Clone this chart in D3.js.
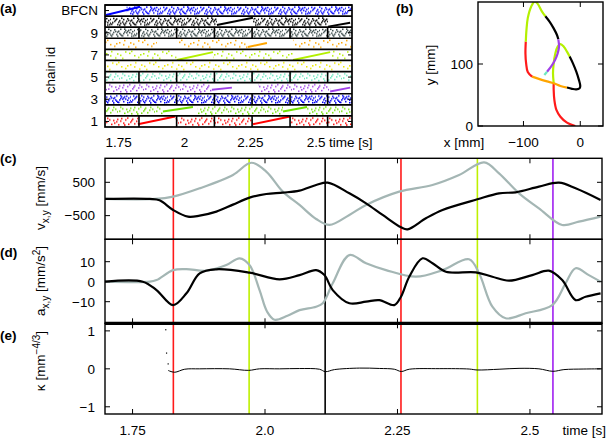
<!DOCTYPE html>
<html><head><meta charset="utf-8">
<script src="https://cdn.jsdelivr.net/npm/d3@7"></script>
<style>
body{margin:0;background:#fff}
svg{display:block}
text{font-family:"Liberation Sans",Arial,Helvetica,sans-serif;font-size:13.5px;fill:#000}
</style>
</head><body>
<svg id="chart" width="608" height="438"></svg>
<script>
// ---------------- data ----------------
const chainIds = ["1","2","3","4","5","6","7","8","9","10","BFCN"];
const chainColors = ["#ff0000","#70e000","#0000ee","#a040e8","#6ee8c0","#eee800","#b4f000","#ffa500","#3a4a4a","#000000","#0000ff"];
const chainDensity = [2,2,3,2,2,1,1,1,3,3,3];
const chainTickLabels = ["1","3","5","7","9","BFCN"];
// dotted (asynchronous) spans per chain: [chain, tStart, tEnd]
const dotSpans = [
  ["1",1.698,1.823],["1",1.964,2.260],["1",2.401,2.636],
  ["2",1.698,1.918],["2",2.050,2.374],["2",2.465,2.636],
  ["3",1.698,2.636],
  ["4",1.698,2.104],["4",2.280,2.553],
  ["5",1.698,2.636],
  ["6",1.698,2.636],
  ["7",1.698,1.971],["7",2.108,2.412],["7",2.553,2.636],
  ["8",1.698,1.895],["8",1.971,2.241],["8",2.412,2.636],
  ["9",1.698,2.636],
  ["10",1.698,2.123],["10",2.260,2.545],
  ["BFCN",1.780,2.636]
];
// synchronous ramps: [chain, tStart, tEnd, phaseStart, phaseEnd]
const ramps = [
  ["1",1.823,1.964,0.25,0.95],["1",2.260,2.401,0.25,0.95],
  ["2",1.918,2.032,0.40,0.80],["2",2.374,2.465,0.40,0.80],
  ["4",2.104,2.180,0.35,0.55],["4",2.553,2.629,0.20,0.55],
  ["7",1.971,2.108,0.05,0.75],["7",2.412,2.553,0.05,0.75],
  ["8",2.241,2.313,0.22,0.58],
  ["10",2.123,2.260,0.20,0.85],["10",2.545,2.629,0.05,0.40],
  ["BFCN",1.702,1.831,0.10,0.85]
];
const markerRows = ["1","3","5","9"];
const eventTimes = [1.827,1.970,2.1135,2.2566,2.4008,2.5434];
const eventColors = ["#ff1a1a","#bef000","#000000","#ff1a1a","#bef000","#a020f0"];
const timeTicks = [1.75,2.0,2.25,2.5];
const timeLabelsA = ["1.75","2","2.25","2.5"];
const timeLabelsC = ["1.75","2.0","2.25","2.5"];

// trajectory (b): segments of [x mm, y mm] with chain colour
const trajColors = ["#ff1a1a","#b4f000","#000000","#ffa500","#ff1a1a","#b4f000","#000000","#a040e8","#6ee8c0"];
const trajSegments = [
  [[-8.8,0],[-23.4,5.4],[-35,15],[-42,26],[-45.6,42],[-46.8,58],[-46.8,69]],
  [[-46.8,69],[-48,85],[-46.8,101],[-43.9,117],[-39.8,128],[-35,132],[-29,128],[-23.4,120],[-18.7,112]],
  [[-18.7,112],[-12.9,101],[-7,87.6],[-2.3,74],[0,64.5],[-1.2,61],[-7,59],[-14.6,60],[-23.4,62]],
  [[-23.4,62],[-35,64.5],[-46.8,69],[-58.5,72],[-73,76],[-84.8,79.6]],
  [[-84.8,79.6],[-92.4,87],[-95.3,101],[-96.5,117],[-95.9,136]],
  [[-95.9,136],[-94.7,155],[-92.4,174],[-86.5,192.5],[-80,201],[-74.9,197],[-67,184],[-61.4,177]],
  [[-61.4,177],[-53.8,168],[-46.8,157.5],[-41,146.8],[-38.6,139.8]],
  [[-38.6,139.8],[-37.4,128],[-39.8,117],[-44.4,106.5],[-51.5,95.7],[-58.5,87.6]],
  [[-58.5,87.6],[-63.2,82.3]]
];
const xTicksB = [-100,0];
const xLabelsB = ["\u2212100","0"];
const yTicksB = [0,100];

// (c) velocities
const vxT = [1.698,1.7826,1.801,1.8265,1.8547,1.8767,1.9082,1.9395,1.9709,2.0023,2.0336,2.0651,2.0965,2.1184,2.1592,2.1907,2.222,2.2566,2.269,2.3037,2.335,2.4008,2.4417,2.4732,2.517,2.5548,2.5862,2.6333];
const vxV = [0,0,-40,-330,-530,-500,-380,-170,40,150,190,250,420,490,170,-130,-480,-850,-910,-580,-330,-10,170,200,370,490,320,-30];
const vyT = [1.698,1.792,1.8265,1.8767,1.9395,1.9741,2.0023,2.0336,2.0651,2.0965,2.1216,2.1592,2.1907,2.2533,2.3161,2.3663,2.4135,2.4417,2.4794,2.517,2.5609,2.5923,2.6333];
const vyV = [0,0,70,320,720,1087,820,220,-180,-600,-780,-480,-180,220,420,720,1100,770,170,-280,-780,-680,-530];
// (d) accelerations
const axT = [1.698,1.7694,1.7952,1.8265,1.8517,1.8767,1.9082,1.9709,2.0274,2.0651,2.0965,2.1121,2.1278,2.1592,2.1907,2.2157,2.244,2.2566,2.2722,2.2973,2.3161,2.3413,2.3978,2.4291,2.4605,2.5044,2.5359,2.5609,2.5862,2.605,2.6333];
const axV = [0,0,-4.2,-11.7,-5.8,4.2,6.2,4.5,1.2,3.3,5.8,3.3,-4.2,-10.8,-10,-9.2,-11.7,-7.5,2.5,11.7,9.2,5,4.7,2.5,0.5,3.3,5.5,0.8,-9.2,-7.5,-5.8];
const ayT = [1.698,1.7826,1.7952,1.8265,1.8517,1.8894,1.927,1.9521,1.9709,1.9897,2.004,2.018,2.0424,2.0651,2.0965,2.109,2.1278,2.1592,2.1907,2.2283,2.2849,2.3349,2.3851,2.404,2.4291,2.4543,2.492,2.5421,2.5673,2.5862,2.6112,2.6333];
const ayV = [0,0,0.8,5.8,6.3,5.5,8.3,11.7,8.3,-4.2,-15,-19,-17,-14.2,-12.5,-10.8,-0.8,13.3,9.2,5.8,2.5,5.8,11.2,4.2,-12.5,-18.3,-15.8,-11.7,-0.8,6.7,3.3,0];
// (e) curvature
const kT = [1.8171,1.8202,1.8297,1.8485,1.8767,1.9332,1.969,1.9897,2.0274,2.0651,2.1027,2.114,2.131,2.1781,2.2157,2.244,2.2572,2.2723,2.3288,2.3853,2.4003,2.4417,2.4794,2.517,2.5434,2.5641,2.6018,2.6338];
const kV = [-0.04,-0.06,-0.09,-0.01,0,0,-0.04,0,0,0.008,-0.01,-0.075,-0.02,0.02,0.01,-0.01,-0.07,-0.01,0.005,-0.005,-0.03,-0.01,0.013,0,-0.065,-0.02,-0.005,0];
const kDotT = [1.8127,1.8142,1.8172];
const kDotV = [1.03,0.415,0.13];

// ---------------- drawing ----------------
const svg = d3.select("#chart");

// ===== panel (a) =====
const A = {l:105,r:352,t:5,b:127};
const xA = d3.scaleLinear().domain([1.698,2.636]).range([A.l,A.r]);
const yA = d3.scaleBand().domain(chainIds.slice().reverse()).range([A.t,A.b]);
const bw = yA.bandwidth();
const colorOf = d3.scaleOrdinal().domain(chainIds).range(chainColors);
const densOf = d3.scaleOrdinal().domain(chainIds).range(chainDensity);

// texture tile for spike rasters (style only): x px inside a 37px tile, y as fraction of row
const tileW = 37;
const tileDots = [[2,.08],[11,.55],[20,.3],[29,.82],[6,.9],[16,.12],[25,.6],[34,.35],[1,.62],[13,.95],[22,.05],[31,.48],[8,.38],[18,.74],[27,.2],
  [4,.3],[9,.72],[15,.45],[23,.88],[32,.1],[36,.7],[19,.98],[26,.4],[12,.22],[35,.92],[7,.58],
  [3,.45],[10,.05],[14,.7],[17,.33],[21,.6],[24,.92],[28,.5],[30,.18],[33,.64],[5,.15],[0,.85],[12,.8],[19,.42],[26,.03],[33,.96],[8,.98],[22,.76],[29,.33],[36,.2]];
const perDensity = {1:13,2:24,3:45};
const defs = svg.append("defs");
chainIds.forEach((id,i)=>{
  const p = defs.append("pattern").attr("id","pat"+i).attr("patternUnits","userSpaceOnUse")
    .attr("width",tileW).attr("height",bw).attr("patternTransform",`translate(${A.l+i*13},${yA(id)})`);
  tileDots.slice(0,perDensity[densOf(id)]).forEach(d=>{
    p.append("rect").attr("x",d[0]).attr("y",1+d[1]*(bw-3.5)).attr("width",1.5).attr("height",1.5).attr("fill",colorOf(id));
  });
});
defs.append("clipPath").attr("id","clipA").append("rect").attr("x",A.l).attr("y",A.t).attr("width",A.r-A.l).attr("height",A.b-A.t);

const gA = svg.append("g").attr("clip-path","url(#clipA)");
gA.selectAll("rect.dots").data(dotSpans).join("rect").attr("class","dots")
  .attr("x",d=>xA(d[1])).attr("width",d=>xA(d[2])-xA(d[1]))
  .attr("y",d=>yA(d[0])).attr("height",bw)
  .attr("fill",d=>"url(#pat"+chainIds.indexOf(d[0])+")");
gA.selectAll("line.ramp").data(ramps).join("line").attr("class","ramp")
  .attr("x1",d=>xA(d[1])).attr("x2",d=>xA(d[2]))
  .attr("y1",d=>yA(d[0])+bw*(1-d[3])).attr("y2",d=>yA(d[0])+bw*(1-d[4]))
  .attr("stroke",d=>colorOf(d[0])).attr("stroke-width",2);
markerRows.forEach(r=>{
  gA.selectAll(null).data(eventTimes).join("line")
    .attr("x1",d=>xA(d)).attr("x2",d=>xA(d)).attr("y1",yA(r)).attr("y2",yA(r)+bw)
    .attr("stroke","#000").attr("stroke-width",1.6);
});
svg.append("g").selectAll("line").data(chainIds).join("line")
  .attr("x1",A.l).attr("x2",A.r).attr("y1",d=>yA(d)).attr("y2",d=>yA(d))
  .attr("stroke","#000").attr("stroke-width",1.7);
svg.append("rect").attr("x",A.l).attr("y",A.t).attr("width",A.r-A.l).attr("height",A.b-A.t)
  .attr("fill","none").attr("stroke","#000").attr("stroke-width",1.7);
svg.append("g").selectAll("line").data(chainTickLabels).join("line")
  .attr("x1",A.l).attr("x2",A.l+4).attr("y1",d=>yA(d)+bw/2).attr("y2",d=>yA(d)+bw/2).attr("stroke","#000");
svg.append("g").selectAll("line").data(chainTickLabels).join("line")
  .attr("x1",A.r).attr("x2",A.r-4).attr("y1",d=>yA(d)+bw/2).attr("y2",d=>yA(d)+bw/2).attr("stroke","#000");
svg.append("g").selectAll("text").data(chainTickLabels).join("text")
  .attr("x",98).attr("y",d=>yA(d)+bw/2).attr("dy","0.36em").attr("text-anchor","end").attr("font-size","14px").text(d=>d);
svg.append("g").selectAll("text").data(timeTicks).join("text")
  .attr("x",d=>xA(d)).attr("y",146.5).attr("text-anchor","middle").text((d,i)=>timeLabelsA[i]);
svg.append("text").attr("x",329).attr("y",146.5).text("time [s]");
svg.append("text").attr("transform","translate(55,70) rotate(-90)").attr("text-anchor","middle").attr("font-size","14px").text("chain id");

// ===== panel (b) =====
const B = {l:478,r:603,t:2,b:126};
const xB = d3.scaleLinear().domain([-180,40]).range([B.l,B.r]);
const yB = d3.scaleLinear().domain([0,200]).range([B.b,B.t]);
defs.append("clipPath").attr("id","clipB").append("rect").attr("x",B.l).attr("y",B.t).attr("width",B.r-B.l).attr("height",B.b-B.t);
const lineB = d3.line().x(d=>xB(d[0])).y(d=>yB(d[1])).curve(d3.curveCatmullRom);
svg.append("g").attr("clip-path","url(#clipB)").selectAll("path").data(trajSegments).join("path")
  .attr("d",lineB).attr("fill","none").attr("stroke",(d,i)=>trajColors[i]).attr("stroke-width",2.2);
svg.append("rect").attr("x",B.l).attr("y",B.t).attr("width",B.r-B.l).attr("height",B.b-B.t)
  .attr("fill","none").attr("stroke","#000").attr("stroke-width",1.4);
const gbt = svg.append("g");
xTicksB.forEach(v=>{
  gbt.append("line").attr("x1",xB(v)).attr("x2",xB(v)).attr("y1",B.b).attr("y2",B.b-5).attr("stroke","#000");
  gbt.append("line").attr("x1",xB(v)).attr("x2",xB(v)).attr("y1",B.t).attr("y2",B.t+5).attr("stroke","#000");
});
yTicksB.forEach(v=>{
  gbt.append("line").attr("x1",B.l).attr("x2",B.l+5).attr("y1",yB(v)).attr("y2",yB(v)).attr("stroke","#000");
  gbt.append("line").attr("x1",B.r).attr("x2",B.r-5).attr("y1",yB(v)).attr("y2",yB(v)).attr("stroke","#000");
});
svg.append("g").selectAll("text").data(xTicksB).join("text")
  .attr("x",d=>xB(d)).attr("y",146.5).attr("text-anchor","middle").text((d,i)=>xLabelsB[i]);
svg.append("g").selectAll("text").data(yTicksB).join("text")
  .attr("x",473).attr("y",d=>yB(d)).attr("dy","0.36em").attr("text-anchor","end").text(d=>d);
svg.append("text").attr("x",464).attr("y",146.5).attr("text-anchor","middle").text("x [mm]");
svg.append("text").attr("transform","translate(435,65) rotate(-90)").attr("text-anchor","middle").text("y [mm]");

// ===== panels (c),(d),(e) =====
const L = 105, R = 602;
const xT = d3.scaleLinear().domain([1.698,2.636]).range([L,R]);
const C = {t:158.3,b:239.3}, D = {t:239.3,b:323.3}, E = {t:323.3,b:414};
const yC = d3.scaleLinear().domain([-1210,1220]).range([C.b,C.t]);
const yD = d3.scaleLinear().domain([-20.8,21.2]).range([D.b,D.t]);
const yE = d3.scaleLinear().domain([-1.19,1.2]).range([E.b,E.t]);
[["clipC",C],["clipD",D],["clipE",E]].forEach(([id,P])=>{
  defs.append("clipPath").attr("id",id).append("rect").attr("x",L).attr("y",P.t).attr("width",R-L).attr("height",P.b-P.t);
});
svg.append("g").selectAll("line").data(eventTimes).join("line")
  .attr("x1",d=>xT(d)).attr("x2",d=>xT(d)).attr("y1",C.t).attr("y2",E.b)
  .attr("stroke",(d,i)=>eventColors[i]).attr("stroke-width",1.6);

function curve(ts,vs,y,clip,color,w){
  const pts = ts.map((t,i)=>[t,vs[i]]);
  svg.append("path").attr("clip-path","url(#"+clip+")")
    .attr("d",d3.line().x(d=>xT(d[0])).y(d=>y(d[1])).curve(d3.curveCatmullRom.alpha(0.5))(pts))
    .attr("fill","none").attr("stroke",color).attr("stroke-width",w).attr("stroke-linejoin","round");
}
const gray = "#a4b6b4";
curve(vyT,vyV,yC,"clipC",gray,2.2);
curve(vxT,vxV,yC,"clipC","#000",2.2);
curve(ayT,ayV,yD,"clipD",gray,2.2);
curve(axT,axV,yD,"clipD","#000",2.2);
curve(kT,kV,yE,"clipE","#000",1);
svg.append("g").selectAll("rect").data(kDotT).join("rect")
  .attr("x",d=>xT(d)-0.6).attr("y",(d,i)=>yE(kDotV[i])-0.6).attr("width",1.2).attr("height",1.2).attr("fill","#000");

[C,D,E].forEach(P=>{
  svg.append("rect").attr("x",L).attr("y",P.t).attr("width",R-L).attr("height",P.b-P.t)
    .attr("fill","none").attr("stroke","#000").attr("stroke-width",1.4);
});
svg.append("line").attr("x1",L).attr("x2",R).attr("y1",D.b).attr("y2",D.b).attr("stroke","#000").attr("stroke-width",3.2);

const gt = svg.append("g").attr("stroke","#000").attr("stroke-width",1);
[C,D,E].forEach(P=>{
  timeTicks.forEach(t=>{
    gt.append("line").attr("x1",xT(t)).attr("x2",xT(t)).attr("y1",P.t).attr("y2",P.t+5);
    gt.append("line").attr("x1",xT(t)).attr("x2",xT(t)).attr("y1",P.b).attr("y2",P.b-5);
  });
});
const yTicksC = [-500,500], yTicksD = [-10,0,10], yTicksE = [-1,0,1];
const yLabelsC = ["\u2212500","500"], yLabelsD = ["\u221210","0","10"], yLabelsE = ["\u22121","0","1"];
[[yTicksC,yLabelsC,yC],[yTicksD,yLabelsD,yD],[yTicksE,yLabelsE,yE]].forEach(([ticks,labels,y])=>{
  ticks.forEach((v,i)=>{
    gt.append("line").attr("x1",L).attr("x2",L+5).attr("y1",y(v)).attr("y2",y(v));
    gt.append("line").attr("x1",R).attr("x2",R-5).attr("y1",y(v)).attr("y2",y(v));
    svg.append("text").attr("x",95).attr("y",y(v)).attr("dy","0.36em").attr("text-anchor","end").text(labels[i]);
  });
});
svg.append("g").selectAll("text").data(timeTicks).join("text")
  .attr("x",d=>xT(d)).attr("y",435).attr("text-anchor","middle").text((d,i)=>timeLabelsC[i]);
svg.append("text").attr("x",606).attr("y",435).attr("text-anchor","end").text("time [s]");

function rich(x,y,parts){
  const t = svg.append("text").attr("transform",`translate(${x},${y}) rotate(-90)`).attr("text-anchor","middle").attr("font-size","14px");
  let shift = 0;
  parts.forEach(([s,k])=>{
    const target = k==="sub"?4:k==="sup"?-5:0;
    const sp = t.append("tspan").text(s).attr("dy",target-shift);
    if(k) sp.attr("font-size","10px");
    shift = target;
  });
}
rich(45,198,[["v",0],["x,y","sub"],[" [mm/s]",0]]);
rich(45,281,[["a",0],["x,y","sub"],[" [mm/s",0],["2","sup"],["]",0]]);
rich(45,361,[["\u03ba [mm",0],["\u22124/3","sup"],["]",0]]);

[["(a)",0,13],["(b)",396,13],["(c)",0,163],["(d)",0,257],["(e)",0,340]].forEach(([s,x,y])=>{
  svg.append("text").attr("x",x).attr("y",y).attr("font-weight","bold").attr("font-size","18px").text(s);
});
</script>
</body></html>
